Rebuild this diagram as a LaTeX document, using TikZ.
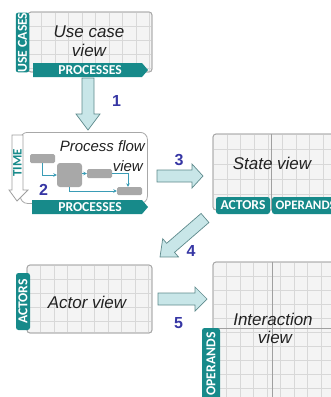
\documentclass[tikz,border=0pt]{standalone}
\usepackage{fontspec}
\setmainfont{Liberation Sans}
\newfontfamily\tabfont{Carlito}
\usetikzlibrary{calc,arrows.meta}
\definecolor{teal1}{HTML}{178A8A}
\definecolor{gridc}{HTML}{D8D8D8}
\definecolor{boxfill}{HTML}{F4F4F4}
\definecolor{boxline}{HTML}{A8A8A8}
\definecolor{divc}{HTML}{A0A0A0}
\definecolor{afill}{HTML}{C8E6E8}
\definecolor{aline}{HTML}{5E8A8C}
\definecolor{numc}{HTML}{3636A4}
\definecolor{flowc}{HTML}{3A9CB6}
\definecolor{gboxc}{HTML}{A8A8A8}
\definecolor{txtc}{HTML}{222222}
% name, x0, y0, x1, y1, stepx, stepy
\newcommand\gridbox[7]{%
  \node[draw=boxline, line width=0.8pt, fill=boxfill, rounded corners=3pt, inner sep=0pt, outer sep=0pt,
        anchor=north west, minimum width={(#4-#2)*1pt}, minimum height={(#5-#3)*1pt}] (#1) at (#2,#3) {};
  \begin{scope}
    \clip[rounded corners=3pt] (#2,#3) rectangle (#4,#5);
    \foreach \gx in {1,...,12} \draw[gridc, line width=0.6pt] ({#2+#6*\gx},#3) -- ({#2+#6*\gx},#5);
    \foreach \gy in {1,...,12} \draw[gridc, line width=0.6pt] (#2,{#3+#7*\gy}) -- (#4,{#3+#7*\gy});
  \end{scope}
  \draw[boxline, line width=0.8pt, rounded corners=3pt] (#1.north west) rectangle (#1.south east);
}
% start, end, head length
\newcommand\blockarrow[3]{%
  \coordinate (#1hb) at ($(#2)!#3pt!(#1)$);
  \draw[bigarrow] ($(#1)!6pt!90:(#2)$) -- ($(#1hb)!6pt!90:(#2)$) -- ($(#1hb)!12pt!90:(#2)$) -- (#2)
    -- ($(#1hb)!12pt!-90:(#2)$) -- ($(#1hb)!6pt!-90:(#2)$) -- ($(#1)!6pt!-90:(#2)$) -- cycle;
}
\begin{document}
\begin{tikzpicture}[x=1pt,y=-1pt,
  lbl/.style={font=\fontsize{17}{20}\selectfont\itshape, text=txtc, inner sep=0pt, anchor=base},
  pflbl/.style={font=\fontsize{15}{18}\selectfont\itshape, text=txtc, inner sep=0pt, anchor=base east},
  num/.style={font=\fontsize{16}{18}\selectfont\bfseries, text=numc, inner sep=0pt, anchor=base},
  tab/.style={fill=teal1, rounded corners=2.5pt, text=white, inner sep=0pt,
    font=\tabfont\bfseries\fontsize{13.6}{15}\selectfont},
  bartext/.style={text=white, inner sep=0pt, font=\tabfont\bfseries\fontsize{13.6}{15}\selectfont},
  bigarrow/.style={fill=afill, draw=aline, line width=0.7pt, line join=miter},
  gbox/.style={fill=gboxc, rounded corners=1.5pt, inner sep=0pt},
  flow/.style={draw=flowc, line width=0.8pt, -{Stealth[length=3.5pt,width=3.5pt]}},
]
\useasboundingbox (0,0) rectangle (331,397);
\clip (0,0) rectangle (331,397);

% ---------- Use case view ----------
\gridbox{uc}{28}{12}{152}{72}{13.5}{14}
\node[tab, rotate=90, minimum width=59pt, minimum height=13.5pt] (ucTab) at (22.5,42.5) {USE CASES};
\fill[teal1] (33,63) -- (142,63) -- (148,70) -- (142,77) -- (33,77) -- cycle;
\node[bartext] (ucProc) at (90,70) {PROCESSES};
\node[lbl] (ucT1) at (89,37) {Use case};
\node[lbl] (ucT2) at (89,56) {view};

% ---------- Process flow view ----------
\node[draw=boxline, line width=0.8pt, fill=white, rounded corners=7pt, inner sep=0pt, anchor=north west,
      minimum width=127pt, minimum height=71pt] (pf) at (20,132) {};
\draw[fill=white, draw=gray!75, line width=0.8pt, line join=miter]
  (12,135) -- (23,135) -- (23,190) -- (28,190) -- (17,201) -- (9,190) -- (12,190) -- cycle;
\node[text=teal1, inner sep=0pt, rotate=90, font=\tabfont\bfseries\fontsize{13}{14}\selectfont] (timeT) at (17.5,163) {TIME};
\fill[teal1] (32,200) -- (142,200) -- (148,207) -- (142,214) -- (32,214) -- cycle;
\node[bartext] (pfProc) at (90,207) {PROCESSES};
\node[pflbl] (pfT1) at (145,151) {Process flow};
\node[pflbl] (pfT2) at (143,171) {view};
\node[gbox, minimum width=25pt, minimum height=9pt] (fa) at (42.5,158.5) {};
\node[gbox, minimum width=25pt, minimum height=24pt, rounded corners=3pt] (fb) at (69.5,175) {};
\node[gbox, minimum width=25pt, minimum height=9pt] (fc) at (99.5,173.5) {};
\node[gbox, minimum width=25pt, minimum height=8pt] (fd) at (129.5,191) {};
\draw[flow] (fa.south) |- (fb.west);
\draw[flow] (fb.east |- fc.west) -- (fc.west);
\draw[flow] (fc.east) -| ([xshift=-1.5pt]fd.north);
\draw[flow] (fb.south) |- (fd.west);
\node[num] (n2) at (43.5,195) {2};

% ---------- State view ----------
\gridbox{sv}{213}{134}{345}{210}{13.8}{15}
\draw[divc, line width=1pt] (271,134) -- (271,210);
\node[tab, minimum width=54pt, minimum height=17pt] (svAct) at (243,205.5) {ACTORS};
\node[tab, minimum width=68pt, minimum height=17pt] (svOp) at (306,205.5) {};
\node[text=white, inner sep=0pt, anchor=west, font=\tabfont\bfseries\fontsize{13}{15}\selectfont] (svOpT) at (275.5,205.5) {OPERANDS};
\node[lbl] (svT) at (272,169) {State view};

% ---------- Actor view ----------
\gridbox{av}{27}{265}{152}{333}{13.5}{14}
\node[tab, rotate=90, minimum width=57pt, minimum height=14pt] (avTab) at (23,301.5) {ACTORS};
\node[lbl] (avT) at (87,308) {Actor view};

% ---------- Interaction view ----------
\gridbox{iv}{213}{262}{345}{405}{13.5}{14}
\draw[divc, line width=1pt] (272,262) -- (272,405);
\draw[divc, line width=1pt] (213,328) -- (345,328);
\node[tab, rotate=90, minimum width=72pt, minimum height=18pt] (ivTab) at (211,364) {OPERANDS};
\node[lbl] (ivT1) at (273,325) {Interaction};
\node[lbl] (ivT2) at (275,343) {view};

% ---------- Block arrows ----------
\coordinate (a1s) at (88,78);   \coordinate (a1e) at (88,130);
\coordinate (a3s) at (157,176); \coordinate (a3e) at (203,176);
\coordinate (a4s) at (205,218); \coordinate (a4e) at (160,257);
\coordinate (a5s) at (158,299); \coordinate (a5e) at (207,299);
\blockarrow{a1s}{a1e}{16}
\blockarrow{a3s}{a3e}{11}
\blockarrow{a4s}{a4e}{14}
\blockarrow{a5s}{a5e}{12}
\node[num] (n1) at (116.5,106) {1};
\node[num] (n3) at (179,165) {3};
\node[num] (n4) at (191,256) {4};
\node[num] (n5) at (178.5,328) {5};
\end{tikzpicture}
\end{document}
